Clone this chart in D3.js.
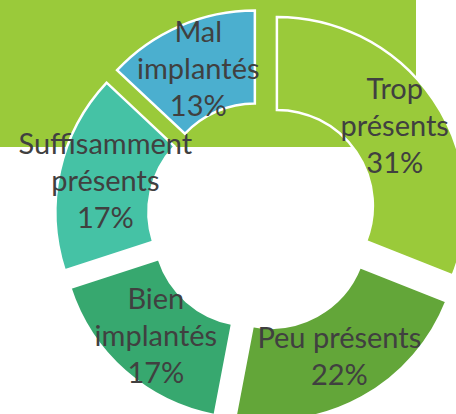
<!DOCTYPE html>
<html>
<head>
<meta charset="utf-8">
<script src="https://cdn.jsdelivr.net/npm/d3@7"></script>
<style>
  body { margin: 0; background: #fff; }
  svg { display: block; }
</style>
</head>
<body>
<svg id="chart" width="456" height="414"></svg>
<script>
// data
const categories = ["Trop présents", "Peu présents", "Bien implantés", "Suffisamment présents", "Mal implantés"];
const values = [31, 22, 17, 17, 13];
const labelLines = [
    ["Trop", "présents"],
    ["Peu présents"],
    ["Bien", "implantés"],
    ["Suffisamment", "présents"],
    ["Mal", "implantés"]
];
const colors = ["#9aca3a", "#63a639", "#37a86f", "#45c2a5", "#4bafcf"];

const width = 456;
const height = 414;
const cx = 262, cy = 216;
const outerR = 189, innerR = 96;
const explode = 18;

const svg = d3.select("#chart");

// green block behind the ring
svg.append("rect")
    .attr("x", 0)
    .attr("y", 0)
    .attr("width", 416)
    .attr("height", 147)
    .attr("fill", "#9aca3a");

const pie = d3.pie().sort(null).value(d => d.value);
const arc = d3.arc().innerRadius(innerR).outerRadius(outerR);
const labelArc = d3.arc().innerRadius((innerR + outerR) / 2).outerRadius((innerR + outerR) / 2);

const data = categories.map((c, i) => ({name: c, value: values[i], lines: labelLines[i], color: colors[i]}));
const arcs = pie(data);

// each slice is pulled out along its middle angle
function offset(d) {
    const a = (d.startAngle + d.endAngle) / 2;
    return [cx + explode * Math.sin(a), cy - explode * Math.cos(a)];
}

const slices = svg.append("g")
    .selectAll("g")
    .data(arcs)
    .join("g")
    .attr("transform", d => "translate(" + offset(d) + ")");

slices.append("path")
    .attr("d", arc)
    .attr("fill", d => d.data.color)
    .attr("stroke", "white")
    .attr("stroke-width", 2.5)
    .attr("stroke-linejoin", "miter");

const lineH = 37;
slices.append("text")
    .attr("transform", d => "translate(" + labelArc.centroid(d) + ")")
    .attr("text-anchor", "middle")
    .style("font-family", "Lato, 'Open Sans', sans-serif")
    .style("font-size", "29px")
    .attr("fill", "#404040")
    .each(function(d) {
        const lines = d.data.lines.concat([d.data.value + "%"]);
        const t = d3.select(this);
        const y0 = -(lines.length - 1) / 2 * lineH + 10;
        lines.forEach((l, i) => {
            t.append("tspan")
                .attr("x", 0)
                .attr("y", y0 + i * lineH)
                .text(l);
        });
    });
</script>
</body>
</html>
